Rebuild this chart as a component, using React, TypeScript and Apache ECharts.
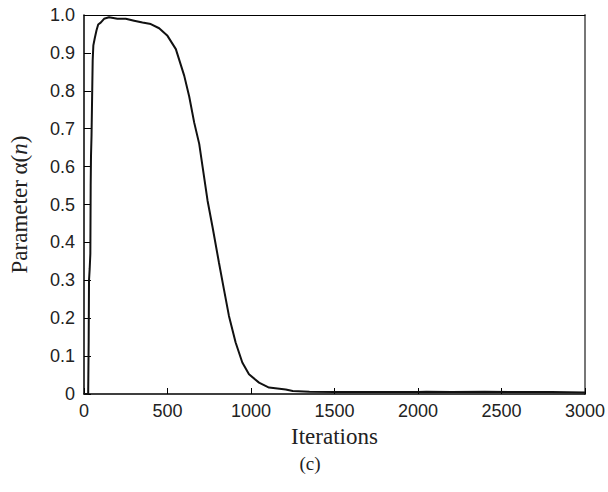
import React, { useEffect, useRef } from "react";
import * as echarts from "echarts";

const iterations = [0, 25, 28, 30, 34, 38, 40, 42, 45, 52, 56, 65, 75, 85, 100, 120, 150, 200, 250, 300, 350, 400, 450, 500, 550, 600, 630, 660, 690, 710, 740, 770, 808, 838, 868, 908, 948, 988, 1048, 1108, 1208, 1250, 1350, 1500, 1700, 2000, 2050, 2200, 2400, 2600, 2800, 3000];
const alphaValues = [0, 0, 0.14, 0.3, 0.33, 0.37, 0.55, 0.63, 0.68, 0.88, 0.92, 0.94, 0.96, 0.975, 0.98, 0.99, 0.994, 0.99, 0.99, 0.985, 0.98, 0.976, 0.965, 0.945, 0.91, 0.84, 0.785, 0.716, 0.66, 0.6, 0.51, 0.44, 0.347, 0.276, 0.206, 0.136, 0.083, 0.052, 0.03, 0.017, 0.012, 0.008, 0.006, 0.005, 0.005, 0.005, 0.006, 0.005, 0.006, 0.005, 0.005, 0.004];
const xTicks = { min: 0, max: 3000, interval: 500 };
const yTicks = { min: 0, max: 1, interval: 0.1 };

export default function App() {
  const ref = useRef<HTMLDivElement>(null);
  useEffect(() => {
    if (!ref.current) return;
    const chart = echarts.init(ref.current, null, { renderer: "svg" });
    const labelFont = { fontFamily: "Liberation Sans", fontSize: 18, color: "#222" };
    chart.setOption({
      animation: false,
      backgroundColor: "#fff",
      grid: { left: 84, right: 22, top: 15, bottom: 98, containLabel: false },
      title: {
        text: "(c)",
        left: 305,
        top: 449,
        textAlign: "center",
        textStyle: { fontFamily: "Liberation Serif", fontSize: 19, fontWeight: "normal", color: "#222" },
      },
      xAxis: [
        {
          type: "value",
          min: xTicks.min,
          max: xTicks.max,
          interval: xTicks.interval,
          name: "Iterations",
          nameLocation: "middle",
          nameGap: 30,
          nameTextStyle: { fontFamily: "Liberation Serif", fontSize: 23, color: "#222" },
          axisLine: { onZero: false, lineStyle: { color: "#000", width: 1.5 } },
          axisTick: { inside: true, length: 6, lineStyle: { color: "#000" } },
          axisLabel: { ...labelFont, margin: 8, formatter: (v: number) => String(v) },
          splitLine: { show: false },
        },
        {
          type: "value",
          position: "top",
          min: xTicks.min,
          max: xTicks.max,
          axisLine: { show: true, onZero: false, lineStyle: { color: "#000", width: 1 } },
          axisTick: { show: false },
          axisLabel: { show: false },
          splitLine: { show: false },
        },
      ],
      yAxis: [
        {
          type: "value",
          min: yTicks.min,
          max: yTicks.max,
          interval: yTicks.interval,
          name: "{a|Parameter α(}{i|n}{a|)}",
          nameLocation: "middle",
          nameGap: 53,
          nameRotate: 90,
          nameTextStyle: {
            rich: {
              a: { fontFamily: "Liberation Serif", fontSize: 23, color: "#222" },
              i: { fontFamily: "Liberation Serif", fontSize: 23, fontStyle: "italic", color: "#222" },
            },
          },
          axisLine: { show: true, onZero: false, lineStyle: { color: "#000", width: 1.5 } },
          axisTick: { show: true, inside: true, length: 7, lineStyle: { color: "#000" } },
          axisLabel: {
            ...labelFont,
            margin: 9,
            formatter: (v: number) => (v === 0 ? "0" : v.toFixed(1)),
          },
          splitLine: { show: false },
        },
        {
          type: "value",
          position: "right",
          min: yTicks.min,
          max: yTicks.max,
          axisLine: { show: true, onZero: false, lineStyle: { color: "#777", width: 2 } },
          axisTick: { show: false },
          axisLabel: { show: false },
          splitLine: { show: false },
        },
      ],
      series: [
        {
          type: "line",
          xAxisIndex: 0,
          yAxisIndex: 0,
          data: iterations.map((x, i) => [x, alphaValues[i]]),
          showSymbol: false,
          symbol: "none",
          lineStyle: { color: "#111", width: 2 },
        },
      ],
    });
    return () => chart.dispose();
  }, []);
  return <div ref={ref} style={{ position: "fixed", left: 0, top: 0, width: 608, height: 492 }} />;
}
